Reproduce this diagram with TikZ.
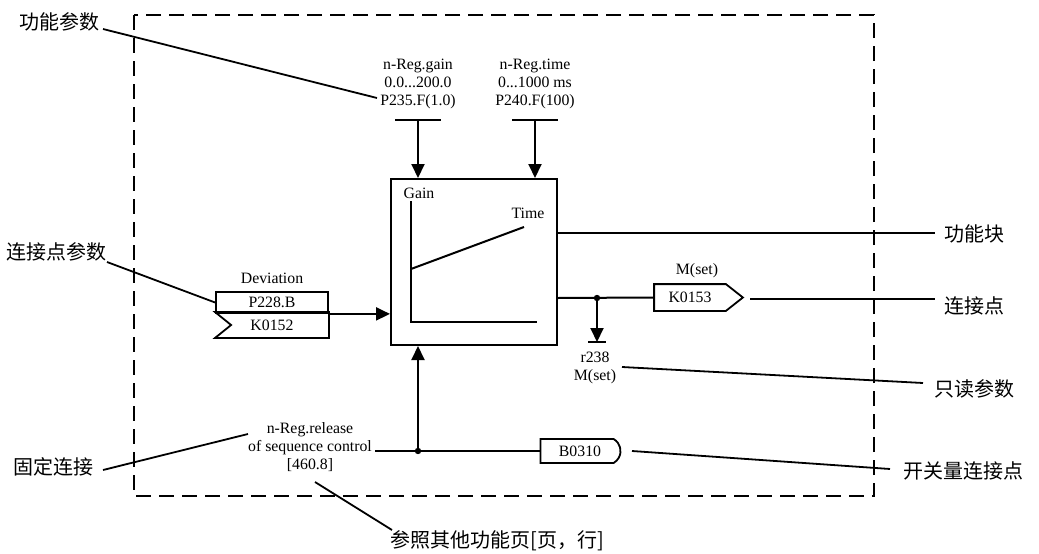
\documentclass[tikz,border=0pt]{standalone}
\usepackage{fontspec}
\setmainfont{Liberation Serif}
\newfontfamily\cjk{Noto Sans CJK SC}
\usepackage{tikz}
\usetikzlibrary{arrows.meta,shapes.misc,positioning}
\tikzstyle{arrow} = [line width=2pt,-{Triangle[length=14pt,width=13pt]}]
\tikzstyle{leader} = [line width=1.8pt]

\begin{document}
\begin{tikzpicture}[x=1pt, y=-1pt,
    font=\fontsize{15.8}{18}\selectfont,
    signal/.style={line width=1.8pt, inner sep=0pt},
    block/.style={draw, line width=2pt, minimum width=166pt, minimum height=166pt},
    wire/.style={line width=2pt},
    bar/.style={line width=2pt},
    frame/.style={line width=1.8pt, dash pattern=on 15pt off 8pt},
    cjklabel/.style={font=\cjk\fontsize{20}{24}\selectfont, anchor=west}]

\useasboundingbox (0,0) rectangle (1039,554);

% Dashed frame
\draw[frame] (134,15) rectangle (874,496);

% Function block
\node[block] (fb) at (474,262) {};
\draw[wire] (411,201) -- (411,322) -- (537,322);
\draw[wire] (411,269) -- (524,227);
\node (gain) at (419,193) {Gain};
\node (time) at (528,213) {Time};

% Parameters on top
\node[align=center] (gainpar) at (418,84) {n-Reg.gain\\0.0...200.0\\P235.F(1.0)};
\node[align=center] (timepar) at (535,84) {n-Reg.time\\0...1000 ms\\P240.F(100)};
\coordinate (gainbar) at (418,120);
\coordinate (timebar) at (535,120);
\draw[bar] ([xshift=-23pt]gainbar) -- ([xshift=23pt]gainbar);
\draw[bar] ([xshift=-23pt]timebar) -- ([xshift=23pt]timebar);
\draw[arrow] (gainbar) -- (gainbar |- fb.north);
\draw[arrow] (timebar) -- (timebar |- fb.north);

% Input connector
\node (dev) at (272,278) {Deviation};
\node[signal, draw, minimum width=112pt, minimum height=21pt] (p228) at (272,302.5) {P228.B};
\node[signal, minimum width=112pt, minimum height=24pt] (k0152) at (272,325) {K0152};
\draw[signal] (k0152.north west) -- (k0152.north east) -- (k0152.south east)
    -- (k0152.south west) -- ([xshift=16pt]k0152.west) -- cycle;
\draw[arrow] (p228.south east) -- (p228.south east -| fb.west);

% Output connector
\coordinate (outdot) at (597,298);
\node[signal, minimum width=70pt, minimum height=25pt] (k0153) at (690,297.5) {K0153};
\draw[signal] (k0153.north west) -- (k0153.north east) -- ([xshift=17pt]k0153.east)
    -- (k0153.south east) -- (k0153.south west) -- cycle;
\node (mset) at (697,271) {M(set)};
\draw[wire] (outdot -| fb.east) -- (k0153.west);
\fill (outdot) circle (3.2pt);
\coordinate (rbar) at (597,342);
\draw[arrow] (outdot) -- (rbar);
\draw[bar] ([xshift=-9pt]rbar) -- ([xshift=9pt]rbar);
\node[align=center] (r238) at (595,368) {r238\\M(set)};

% Release input
\node[align=center] (release) at (310,447) {n-Reg.release\\of sequence control\\{[460.8]}};
\coordinate (reldot) at (418,451);
\node[rounded rectangle, rounded rectangle west arc=none, rounded rectangle arc length=120,
    draw, line width=1.8pt, minimum width=84pt, minimum height=24pt, inner sep=2pt] (b0310) at (580,451) {B0310};
\draw[wire] (release.east |- reldot) -- (b0310.west);
\draw[arrow] (reldot) -- (reldot |- fb.south);
\fill (reldot) circle (3.2pt);

% Labels
\node[cjklabel] (lblpar) at (16,22) {功能参数};
\node[cjklabel] (lblcpp) at (3,252) {连接点参数};
\node[cjklabel] (lblfix) at (10,467) {固定连接};
\node[cjklabel] (lblfb) at (941,234) {功能块};
\node[cjklabel] (lblcp) at (941,306) {连接点};
\node[cjklabel] (lblro) at (931,389) {只读参数};
\node[cjklabel] (lblbin) at (900,471) {开关量连接点};
\node[cjklabel] (lblref) at (387,541) {参照其他功能页[页，行]};

% Leaders
\coordinate (parfrom) at (103,29);
\coordinate (parto) at (377,98);
\draw[leader] (parfrom) -- (parto);
\coordinate (cppfrom) at (107,262);
\draw[leader] (cppfrom) -- (p228.west);
\coordinate (fixfrom) at (103,470);
\coordinate (fixto) at (248,434);
\draw[leader] (fixfrom) -- (fixto);
\coordinate (fbout) at ([yshift=29pt]fb.east);
\coordinate (fbend) at (935,233);
\draw[leader] (fbout) -- (fbend);
\coordinate (kout) at (750,299);
\coordinate (kend) at (935,299);
\draw[leader] (kout) -- (kend);
\coordinate (rofrom) at (622,367);
\coordinate (roto) at (923,383);
\draw[leader] (rofrom) -- (roto);
\coordinate (binfrom) at (632,451);
\coordinate (binto) at (890,469);
\draw[leader] (binfrom) -- (binto);
\coordinate (reffrom) at (315,482);
\coordinate (refto) at (392,530);
\draw[leader] (reffrom) -- (refto);
\end{tikzpicture}
\end{document}
